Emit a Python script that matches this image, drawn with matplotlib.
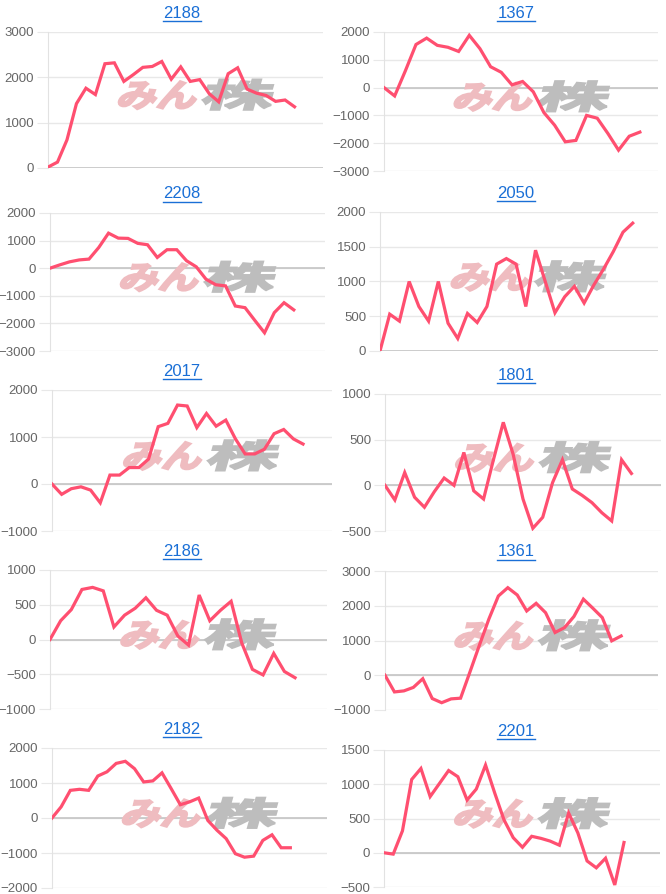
import numpy as np
import matplotlib
matplotlib.use('Agg')
import matplotlib.pyplot as plt
from matplotlib.textpath import TextPath
from matplotlib.patches import PathPatch
from matplotlib.font_manager import FontProperties
from matplotlib.transforms import Affine2D
from matplotlib.lines import Line2D

plt.rcParams['font.family'] = ['Liberation Sans', 'DejaVu Sans']

codes = ['2188', '1367', '2208', '2050', '2017', '1801', '2186', '1361', '2182', '2201']

s2188 = [20, 130, 620, 1420, 1760, 1620, 2300, 2320, 1910, 2060, 2220, 2240, 2350, 1960,
         2230, 1910, 1950, 1640, 1460, 2080, 2210, 1740, 1650, 1600, 1470, 1500, 1350]
s1367 = [0, -300, 600, 1550, 1780, 1520, 1450, 1300, 1880, 1400, 750, 550, 100, 220,
         -150, -900, -1350, -1950, -1900, -1000, -1100, -1650, -2250, -1750, -1600]
s2208 = [0, 120, 230, 300, 330, 750, 1270, 1090, 1080, 900, 850, 390, 670, 670, 270,
         50, -400, -600, -640, -1370, -1430, -1890, -2340, -1610, -1250, -1510]
s2050 = [0, 530, 430, 1000, 640, 430, 1000, 400, 180, 540, 410, 640, 1250, 1330, 1250,
         640, 1450, 1000, 550, 780, 930, 690, 950, 1180, 1430, 1710, 1840]
s2017 = [0, -220, -100, -60, -130, -400, 190, 190, 350, 350, 530, 1220, 1290, 1680,
         1660, 1200, 1500, 1230, 1360, 960, 640, 640, 740, 1070, 1160, 960, 850]
s1801 = [0, -160, 140, -130, -240, -70, 80, 0, 360, -60, -150, 280, 690, 340, -150,
         -470, -350, 30, 280, -40, -110, -190, -300, -390, 280, 130]
s2186 = [0, 270, 430, 720, 750, 700, 180, 350, 450, 600, 420, 350, 50, -80, 640, 270,
         420, 550, -50, -430, -510, -200, -460, -550]
s1361 = [0, -480, -450, -350, -100, -670, -790, -680, -660, 100, 870, 1620, 2280, 2520,
         2310, 1850, 2070, 1800, 1230, 1370, 1690, 2190, 1930, 1660, 990, 1130]
s2182 = [0, 320, 790, 820, 790, 1200, 1320, 1560, 1620, 1410, 1030, 1060, 1290, 840,
         380, 460, 570, -70, -350, -590, -1020, -1120, -1090, -640, -480, -850, -850]
s2201 = [0, -20, 320, 1070, 1230, 820, 1010, 1200, 1110, 770, 930, 1280, 870, 480, 220,
         80, 240, 210, 170, 110, 580, 290, -120, -220, -80, -470, 150]

series = [s2188, s1367, s2208, s2050, s2017, s1801, s2186, s1361, s2182, s2201]

# y axis (min, max, step)
y_axes = [(0, 3000, 1000), (-3000, 2000, 1000), (-3000, 2000, 1000), (0, 2000, 500),
          (-1000, 2000, 1000), (-500, 1000, 500), (-1000, 1000, 500), (-1000, 3000, 1000),
          (-2000, 2000, 1000), (-500, 1500, 500)]

# plot boxes in pixels: left, right, top, bottom ; and x extent
boxes = [(48, 323, 32, 168), (384, 658, 32, 171),
         (50, 325, 213, 351), (380, 658, 212, 351),
         (52, 332, 390, 531), (385, 661, 394, 531),
         (50, 327, 570, 709), (385, 658, 571, 710),
         (52, 327, 748, 888), (384, 660, 750, 887)]
x_ext = [29, 25.7, 28.2, 28.6, 29, 28, 26, 28.9, 30, 29.9]

W, H = 666, 894
line_color = '#ff4f70'
title_color = '#1a6fd6'

fig = plt.figure(figsize=(W / 100, H / 100), dpi=100)
wm_font = FontProperties(family='Noto Sans CJK JP', weight='bold')

titles = []
for i, code in enumerate(codes):
    l, r, t, b = boxes[i]
    ax = fig.add_axes([l / W, 1 - b / H, (r - l) / W, (b - t) / H])
    ymin, ymax, step = y_axes[i]
    vals = series[i]
    ax.set_xlim(0, x_ext[i])
    ax.set_ylim(ymin, ymax)
    ax.set_yticks(np.arange(ymin, ymax + 1, step))
    ax.set_xticks([])
    ax.grid(axis='y', color='#e8e8e8', lw=1)
    ax.set_axisbelow(True)
    ax.axhline(0, color='#c4c4c4', lw=1.2, zorder=1)
    for s in ['top', 'right', 'bottom']:
        ax.spines[s].set_visible(False)
    ax.spines['left'].set_color('#e2e2e2')
    ax.tick_params(axis='y', length=8, color='#e8e8e8', labelsize=9.5,
                   labelcolor='#666666', pad=2)

    # watermark
    bx, by = ax.transAxes.transform((0.245, 0.45))
    p1 = TextPath((0, 0), 'みん', size=40, prop=wm_font)
    p2 = TextPath((0, 0), '株', size=40, prop=wm_font)
    tr1 = Affine2D().scale(1.0, 0.8).skew_deg(16, 0).translate(bx, by)
    tr2 = Affine2D().scale(1.8, 0.8).skew_deg(16, 0).translate(bx + 84, by)
    ax.add_patch(PathPatch(p1, transform=tr1, fc='#efbcc0', ec='#efbcc0',
                           lw=1.6, zorder=1.5))
    ax.add_patch(PathPatch(p2, transform=tr2, fc='#bdbdbd', ec='#bdbdbd',
                           lw=1.6, zorder=1.5))

    ax.plot(range(len(vals)), vals, color=line_color, lw=2.3, zorder=3,
            solid_joinstyle='miter')

    cx = 182 if i % 2 == 0 else 516
    tt = fig.text(cx / W, 1 - (t - 19) / H, code, color=title_color, fontsize=12,
                  ha='center', va='center')
    titles.append(tt)

fig.canvas.draw()
renderer = fig.canvas.get_renderer()
for tt in titles:
    bb = tt.get_window_extent(renderer)
    yline = (bb.y0 - 0.5) / H
    fig.add_artist(Line2D([bb.x0 / W, bb.x1 / W], [yline, yline],
                          transform=fig.transFigure, color=title_color, lw=1))

fig.savefig('out.png', dpi=100)
